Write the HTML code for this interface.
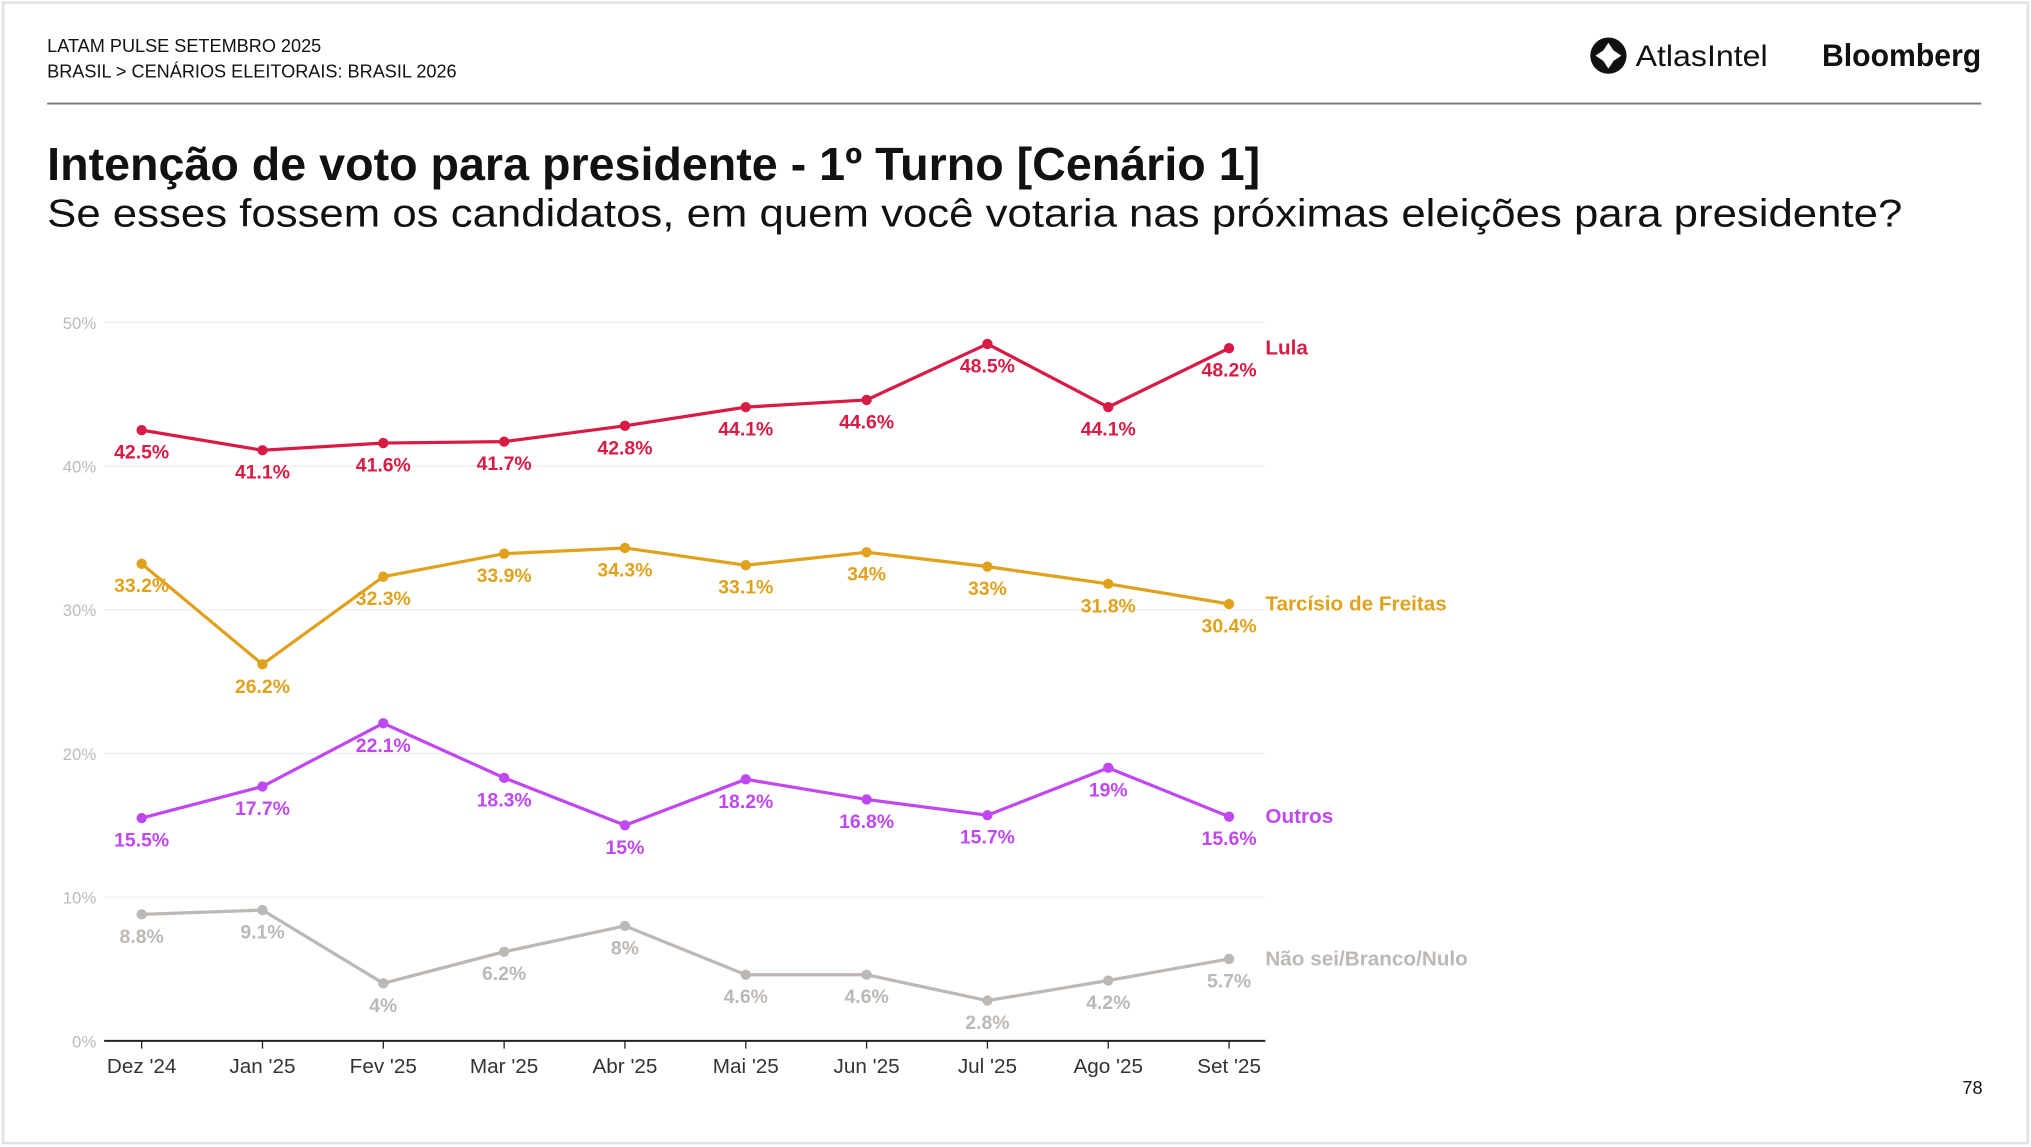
<!DOCTYPE html>
<html><head><meta charset="utf-8"><style>
html,body{margin:0;padding:0;background:#fff}
svg{display:block;font-family:"Liberation Sans",sans-serif}
</style></head><body>
<svg id="chart" width="2031" height="1147" viewBox="0 0 1568 886" xmlns="http://www.w3.org/2000/svg">
<rect x="2" y="2" width="1564" height="881" fill="#fff" stroke="#e3e3e6" stroke-width="2"/>
<text x="36" y="40" font-size="14" fill="#111">LATAM PULSE SETEMBRO 2025</text>
<text x="36" y="60" font-size="14" fill="#111">BRASIL &gt; CENÁRIOS ELEITORAIS: BRASIL 2026</text>
<g>
<circle cx="1242" cy="43" r="14" fill="#111"/>
<path d="M1242 33 L1246 39 L1252 43 L1246 47 L1242 53 L1238 47 L1232 43 L1238 39 Z" fill="#fff"/>
<text x="1263" y="51" font-size="23" fill="#111" textLength="102" lengthAdjust="spacingAndGlyphs">AtlasIntel</text>
</g>
<text x="1407" y="51" font-size="24" font-weight="bold" fill="#111" textLength="123" lengthAdjust="spacingAndGlyphs">Bloomberg</text>
<line x1="36" y1="80" x2="1530" y2="80" stroke="#777" stroke-width="1.5"/>
<text x="36" y="139" font-size="36" font-weight="bold" fill="#111" textLength="937" lengthAdjust="spacingAndGlyphs">Intenção de voto para presidente - 1º Turno [Cenário 1]</text>
<text x="36" y="175" font-size="30" fill="#111" textLength="1433" lengthAdjust="spacingAndGlyphs">Se esses fossem os candidatos, em quem você votaria nas próximas eleições para presidente?</text>
<text x="1531" y="845" font-size="14" fill="#111" text-anchor="end">78</text>
<g id="plot"></g>
</svg>
<script>
const categories=["Dez '24","Jan '25","Fev '25","Mar '25","Abr '25","Mai '25","Jun '25","Jul '25","Ago '25","Set '25"];
const yTicks=[0,10,20,30,40,50];
const lula=[42.5,41.1,41.6,41.7,42.8,44.1,44.6,48.5,44.1,48.2];
const tarcisio=[33.2,26.2,32.3,33.9,34.3,33.1,34,33,31.8,30.4];
const outros=[15.5,17.7,22.1,18.3,15,18.2,16.8,15.7,19,15.6];
const naoSei=[8.8,9.1,4,6.2,8,4.6,4.6,2.8,4.2,5.7];
const seriesNames=["Lula","Tarcísio de Freitas","Outros","Não sei/Branco/Nulo"];

const NS="http://www.w3.org/2000/svg";
const g=document.getElementById('plot');
const X0=109,XS=93.33,Y0=804,YS=11.1;
const x=i=>X0+i*XS, y=v=>Y0-v*YS;
function el(t,a,p){const e=document.createElementNS(NS,t);for(const k in a)e.setAttribute(k,a[k]);(p||g).appendChild(e);return e;}
yTicks.forEach(t=>{
  if(t>0){const l=el('line',{x1:80,x2:977,y1:y(t),y2:y(t),stroke:'#eeeeee','stroke-width':1});
  
  }
  const tx=el('text',{x:74,y:y(t)+5,'font-size':13,fill:'#bbb','text-anchor':'end'});tx.textContent=t+'%';
  
  
});
const ax=el('line',{x1:80,x2:977,y1:Y0,y2:Y0,stroke:'#222','stroke-width':1.5});


categories.forEach((c,i)=>{
  el('line',{x1:x(i),x2:x(i),y1:Y0,y2:Y0+6,stroke:'#222','stroke-width':1});
  const t=el('text',{x:x(i),y:Y0+25,'font-size':16,fill:'#333','text-anchor':'middle'});t.textContent=c;
  
  
});
const series=[[lula,'#d81b45'],[tarcisio,'#e0a21d'],[outros,'#c048f0'],[naoSei,'#bdb8b4']];
series.forEach(([vals,col],si)=>{
  const sg=el('g',{});
  
  
  el('polyline',{points:vals.map((v,i)=>x(i)+','+y(v)).join(' '),fill:'none',stroke:col,'stroke-width':2.5},sg);
  vals.forEach((v,i)=>{
    const c=el('circle',{cx:x(i),cy:y(v),r:4,fill:col},sg);
    
    
    const t=el('text',{x:x(i),y:y(v)+22,'font-size':15,'font-weight':'bold',fill:col,'text-anchor':'middle'},sg);
    t.textContent=v+'%';
    
    
  });
  const n=el('text',{x:977,y:y(vals[vals.length-1])+5,'font-size':16,'font-weight':'bold',fill:col},sg);
  n.textContent=seriesNames[si];
  
  
});
</script>
</body></html>
